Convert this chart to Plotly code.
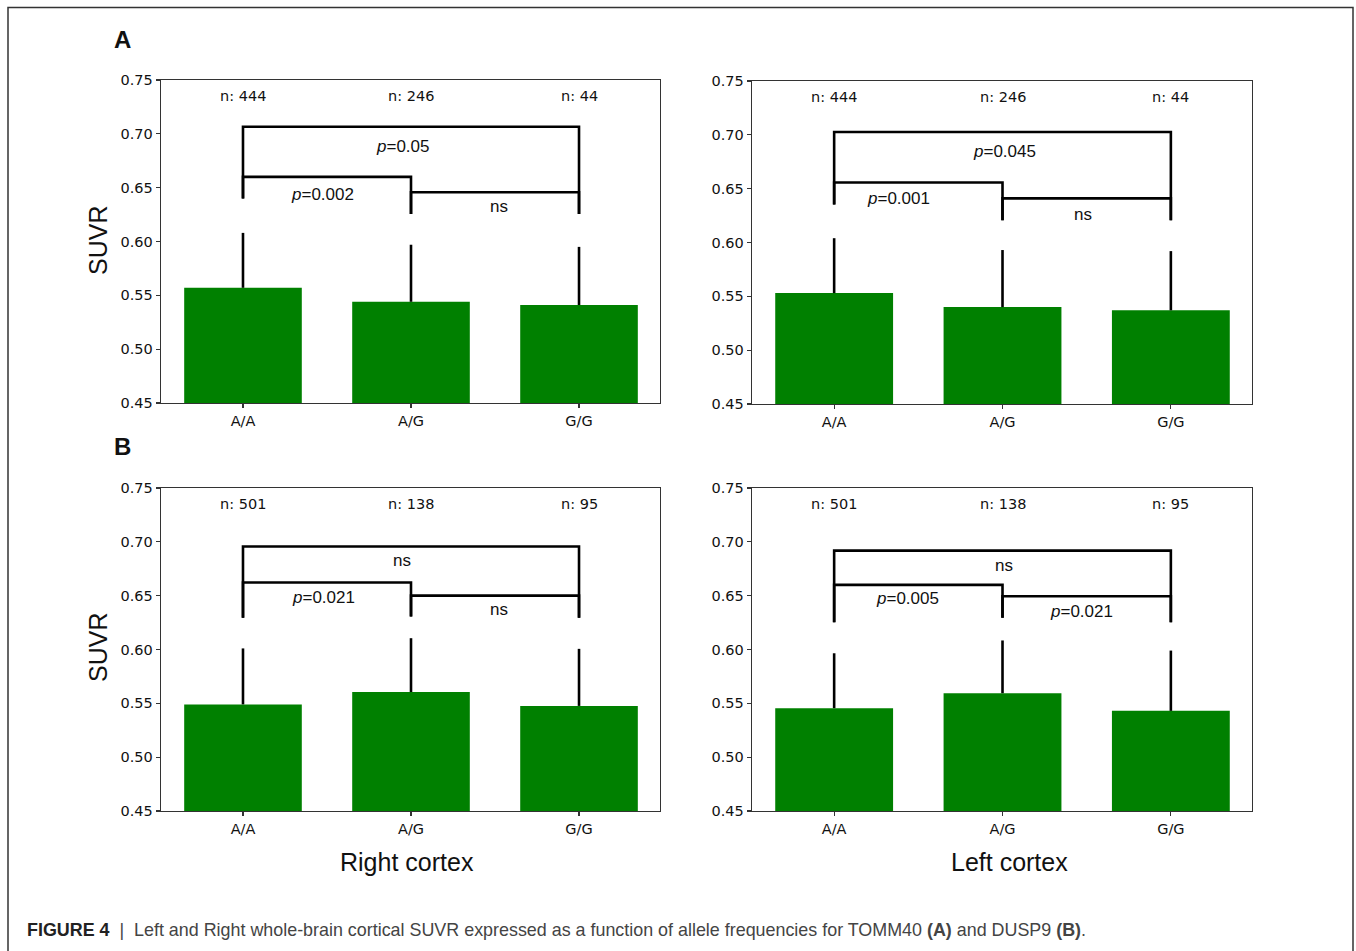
import plotly.graph_objects as go

W, H = 1356, 951

# ---------------- data ----------------
genotypes = ["A/A", "A/G", "G/G"]

# Panel A (TOMM40)
right_tomm40_mean = [0.557, 0.544, 0.541]
right_tomm40_sd = [0.051, 0.053, 0.054]
left_tomm40_mean = [0.553, 0.540, 0.537]
left_tomm40_sd = [0.051, 0.053, 0.055]
tomm40_n = [444, 246, 44]

# Panel B (DUSP9)
right_dusp9_mean = [0.549, 0.5605, 0.5476]
right_dusp9_sd = [0.052, 0.050, 0.053]
left_dusp9_mean = [0.5455, 0.5594, 0.543]
left_dusp9_sd = [0.051, 0.049, 0.056]
dusp9_n = [501, 138, 95]

# significance brackets: (i, j, bar height, left leg bottom, right leg bottom, label)
right_tomm40_brackets = [(0, 2, 0.7066, 0.640, 0.6256, "<i>p</i>=0.05"),
                         (0, 1, 0.660, 0.640, 0.6256, "<i>p</i>=0.002"),
                         (1, 2, 0.6457, 0.6256, 0.6256, "ns")]
left_tomm40_brackets = [(0, 2, 0.7027, 0.6353, 0.6207, "<i>p</i>=0.045"),
                        (0, 1, 0.6557, 0.6353, 0.6207, "<i>p</i>=0.001"),
                        (1, 2, 0.641, 0.6207, 0.6207, "ns")]
right_dusp9_brackets = [(0, 2, 0.6956, 0.6295, 0.6295, "ns"),
                        (0, 1, 0.6622, 0.6295, 0.6307, "<i>p</i>=0.021"),
                        (1, 2, 0.650, 0.6307, 0.6295, "ns")]
left_dusp9_brackets = [(0, 2, 0.6918, 0.6253, 0.6253, "ns"),
                       (0, 1, 0.660, 0.6253, 0.6294, "<i>p</i>=0.005"),
                       (1, 2, 0.6494, 0.6294, 0.6253, "<i>p</i>=0.021")]

# label positions for bracket texts (x in category units, y in data units)
right_tomm40_text_pos = [(0.95, 0.6887), (0.475, 0.6438), (1.525, 0.6324)]
left_tomm40_text_pos = [(1.01, 0.6847), (0.38, 0.641), (1.48, 0.6263)]
right_dusp9_text_pos = [(0.946, 0.6826), (0.477, 0.6486), (1.526, 0.6372)]
left_dusp9_text_pos = [(1.01, 0.6779), (0.433, 0.6474), (1.47, 0.635)]

y_ticks = [0.45, 0.50, 0.55, 0.60, 0.65, 0.70, 0.75]
n_label_y = 0.735

# ---------------- layout geometry ----------------
def px_x(p):
    return p / W

def px_y(p):
    return 1 - p / H

panels = [
    dict(mean=right_tomm40_mean, sd=right_tomm40_sd, n=tomm40_n,
         br=right_tomm40_brackets, tp=right_tomm40_text_pos,
         xd=[px_x(161), px_x(660)], yd=[px_y(403), px_y(80)]),
    dict(mean=left_tomm40_mean, sd=left_tomm40_sd, n=tomm40_n,
         br=left_tomm40_brackets, tp=left_tomm40_text_pos,
         xd=[px_x(752), px_x(1252)], yd=[px_y(404), px_y(81)]),
    dict(mean=right_dusp9_mean, sd=right_dusp9_sd, n=dusp9_n,
         br=right_dusp9_brackets, tp=right_dusp9_text_pos,
         xd=[px_x(161), px_x(660)], yd=[px_y(811), px_y(488)]),
    dict(mean=left_dusp9_mean, sd=left_dusp9_sd, n=dusp9_n,
         br=left_dusp9_brackets, tp=left_dusp9_text_pos,
         xd=[px_x(752), px_x(1252)], yd=[px_y(811), px_y(488)]),
]

fig = go.Figure()
annotations = []
xpos = list(range(len(genotypes)))
axis_col = "#333333"
tick_font = dict(family="DejaVu Sans", size=14.5, color="#111111")
txt_font = dict(family="Liberation Sans, Arial", size=17, color="#111111")

for k, p in enumerate(panels):
    sfx = "" if k == 0 else str(k + 1)
    xa, ya = "x" + sfx, "y" + sfx
    fig.add_trace(go.Bar(
        x=xpos, y=p["mean"], width=0.7, marker=dict(color="#008000", line=dict(width=0)),
        error_y=dict(type="data", symmetric=False, array=p["sd"], arrayminus=[0] * 3,
                     thickness=2.6, width=0, color="black"),
        xaxis=xa, yaxis=ya, showlegend=False, hoverinfo="skip"))
    for (i, j, yb, yl, yr, lab), (tx, ty) in zip(p["br"], p["tp"]):
        fig.add_trace(go.Scatter(
            x=[xpos[i], xpos[i], xpos[j], xpos[j]], y=[yl, yb, yb, yr], mode="lines",
            line=dict(color="black", width=2.6), xaxis=xa, yaxis=ya,
            showlegend=False, hoverinfo="skip"))
        annotations.append(dict(x=tx, y=ty, xref=xa, yref=ya, text=lab, showarrow=False,
                                font=txt_font, xanchor="center", yanchor="middle"))
    for i, n in enumerate(p["n"]):
        annotations.append(dict(x=xpos[i], y=n_label_y, xref=xa, yref=ya, text=f"n: {n}",
                                showarrow=False, font=tick_font,
                                xanchor="center", yanchor="middle"))
    ax_common = dict(showline=True, mirror=True, linecolor=axis_col, linewidth=1.3,
                     ticks="outside", ticklen=4, tickwidth=1.2, tickcolor=axis_col,
                     showgrid=False, zeroline=False, tickfont=tick_font, automargin=False)
    fig.layout["xaxis" + sfx] = dict(domain=p["xd"], range=[-0.488, 2.482],
                                     tickvals=xpos, ticktext=genotypes,
                                     anchor=ya, **ax_common)
    fig.layout["yaxis" + sfx] = dict(domain=p["yd"], range=[0.45, 0.75],
                                     tickvals=y_ticks, tickformat=".2f",
                                     anchor=xa, **ax_common)

big_font = dict(family="Liberation Sans, Arial", size=25, color="#111111")
for yc in (241, 648):
    annotations.append(dict(x=px_x(98), y=px_y(yc), xref="paper", yref="paper", text="SUVR",
                            textangle=-90, showarrow=False, font=big_font,
                            xanchor="center", yanchor="middle"))
annotations.append(dict(x=px_x(407), y=px_y(862), xref="paper", yref="paper",
                        text="Right cortex", showarrow=False, font=big_font,
                        xanchor="center", yanchor="middle"))
annotations.append(dict(x=px_x(1009), y=px_y(862), xref="paper", yref="paper",
                        text="Left cortex", showarrow=False, font=big_font,
                        xanchor="center", yanchor="middle"))
for lab, yc in (("A", 40), ("B", 447)):
    annotations.append(dict(x=px_x(122), y=px_y(yc), xref="paper", yref="paper",
                            text=f"<b>{lab}</b>", showarrow=False,
                            font=dict(family="Liberation Sans, Arial", size=24, color="#111111"),
                            xanchor="center", yanchor="middle"))

caption = ("<b><span style='color:#222222'>FIGURE 4</span></b>  |  Left and Right whole-brain "
           "cortical SUVR expressed as a function of allele frequencies for TOMM40 "
           "<b>(A)</b> and DUSP9 <b>(B)</b>.")
annotations.append(dict(x=px_x(25), y=px_y(930), xref="paper", yref="paper", text=caption,
                        showarrow=False, xanchor="left", yanchor="middle",
                        font=dict(family="Liberation Sans, Arial", size=17.9, color="#444444")))

fig.update_layout(
    width=W, height=H, margin=dict(l=0, r=0, t=0, b=0, pad=0, autoexpand=False),
    paper_bgcolor="white", plot_bgcolor="white",
    annotations=annotations,
    shapes=[dict(type="rect", xref="paper", yref="paper",
                 x0=px_x(8), x1=px_x(1353), y0=-0.05, y1=px_y(7.5),
                 line=dict(color="#333333", width=1.5), fillcolor="rgba(0,0,0,0)")],
)

fig.write_html(
    "out.html",
    config={"displayModeBar": False, "staticPlot": True},
    post_script=(
        "document.documentElement.style.margin='0px';"
        "document.body.style.margin='0px';document.body.style.padding='0px';"
        "document.body.style.overflow='hidden';"
        "document.documentElement.style.overflow='hidden';"
        "var gd=document.getElementById('{plot_id}');"
        "gd.style.position='fixed';gd.style.top='0px';gd.style.left='0px';"
    ),
)
